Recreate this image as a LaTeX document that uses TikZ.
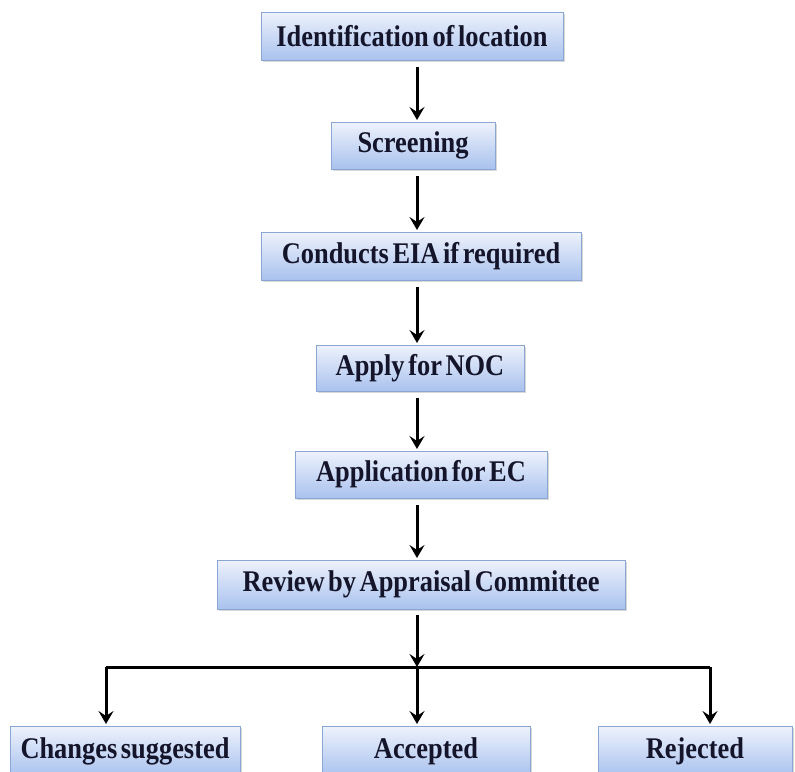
\documentclass[tikz,border=0pt]{standalone}
\usepackage{fontspec}
\setmainfont{Liberation Serif}[BoldFeatures={FakeStretch=0.88}, WordSpace=0.55]
\usetikzlibrary{arrows.meta,shadows}
\definecolor{boxtop}{HTML}{EEF2FC}
\definecolor{boxbot}{HTML}{A9C2EE}
\definecolor{boxline}{HTML}{8AA6D2}
\definecolor{txt}{HTML}{14142A}
\tikzset{
  stepbox/.style={draw=boxline, line width=0.8pt, top color=boxtop, bottom color=boxbot,
    minimum height=48pt, inner sep=0pt, font=\fontsize{30}{31}\selectfont\bfseries, text=txt,
    drop shadow={shadow xshift=1.5pt, shadow yshift=-2pt, opacity=0.25, fill=black!60}},
  flow/.style={line width=3pt, -{Stealth[length=13pt,width=15pt,inset=5pt]}},
  bar/.style={line width=3pt}
}
\begin{document}
\begin{tikzpicture}[x=1pt,y=1pt]
\useasboundingbox (0,0) rectangle (795,-771);
\clip (0,0) rectangle (795,-771);
\fill[white] (0,0) rectangle (795,-771);
\node[stepbox, minimum width=302pt] (n1) at (412,-36) {Identification of location};
\node[stepbox, minimum width=164pt, minimum height=47pt] (n2) at (413,-145.5) {Screening};
\node[stepbox, minimum width=320pt] (n3) at (421,-256) {Conducts EIA if required};
\node[stepbox, minimum width=208pt, minimum height=46pt] (n4) at (420,-368) {Apply for NOC};
\node[stepbox, minimum width=252pt, minimum height=47pt] (n5) at (421,-474.5) {Application for EC};
\node[stepbox, minimum width=408pt, minimum height=49pt] (n6) at (421,-584.5) {Review by Appraisal Committee};
\node[stepbox, minimum width=230pt, minimum height=50pt] (c1) at (125,-751) {Changes suggested};
\node[stepbox, minimum width=208pt, minimum height=50pt] (c2) at (426,-751) {Accepted};
\node[stepbox, minimum width=194pt, minimum height=50pt] (c3) at (695,-751) {Rejected};

\coordinate (a1) at (417,-67);  \coordinate (b1) at (417,-120);
\coordinate (a2) at (417,-176); \coordinate (b2) at (417,-230);
\coordinate (a3) at (417,-287); \coordinate (b3) at (417,-343);
\coordinate (a4) at (417,-398); \coordinate (b4) at (417,-449);
\coordinate (a5) at (417,-505); \coordinate (b5) at (417,-558);
\coordinate (a6) at (417,-615); \coordinate (j) at (417,-667);
\coordinate (jl) at (106,-667); \coordinate (jr) at (710,-667);
\coordinate (tl) at (106,-724); \coordinate (tm) at (417,-724); \coordinate (tr) at (710,-724);

\draw[flow] (a1) -- (b1);
\draw[flow] (a2) -- (b2);
\draw[flow] (a3) -- (b3);
\draw[flow] (a4) -- (b4);
\draw[flow] (a5) -- (b5);
\draw[flow] (a6) -- (j);
\draw[bar] (jl) -- (jr);
\draw[flow] (jl) -- (tl);
\draw[flow] (j) -- (tm);
\draw[flow] (jr) -- (tr);
\end{tikzpicture}
\end{document}
